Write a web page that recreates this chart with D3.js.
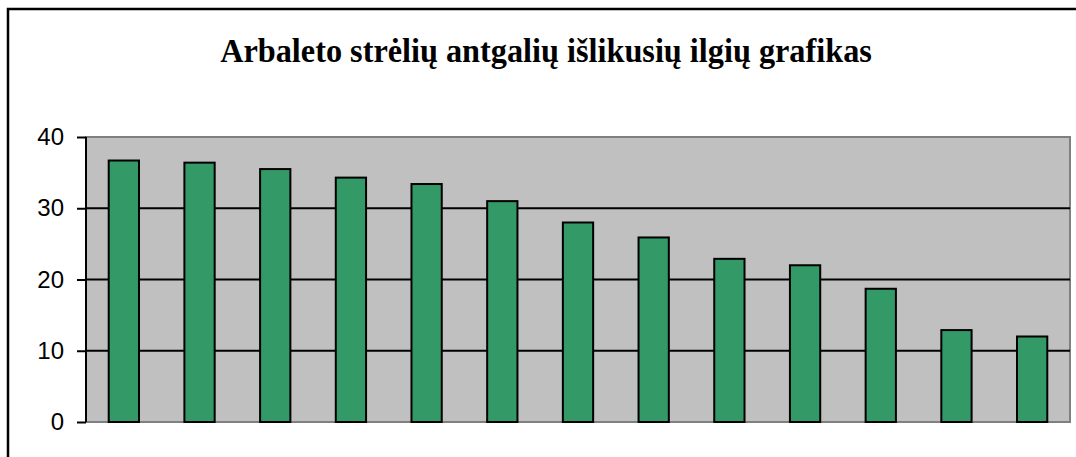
<!DOCTYPE html>
<html>
<head>
<meta charset="utf-8">
<script src="https://cdn.jsdelivr.net/npm/d3@7"></script>
<style>
  html, body { margin: 0; padding: 0; background: #ffffff; }
  svg { display: block; }
</style>
</head>
<body>
<svg id="chart" width="1076" height="457"></svg>
<script>
// Surviving lengths of crossbow bolt heads, ordered longest to shortest
const titleText = "Arbaleto strėlių antgalių išlikusių ilgių grafikas";
const categories = ["1", "2", "3", "4", "5", "6", "7", "8", "9", "10", "11", "12", "13"];
const lengths = [36.7, 36.4, 35.5, 34.3, 33.4, 31.0, 28.0, 25.9, 22.9, 22.0, 18.7, 12.9, 12.0];
const yTicks = [0, 10, 20, 30, 40];

const svg = d3.select("#chart");
const W = 1076, H = 457;
const plot = { left: 86, top: 137, right: 1070, bottom: 422 };

// Outer chart frame (runs past the right and bottom edges)
svg.append("rect")
  .attr("x", 8).attr("y", 9)
  .attr("width", W + 10).attr("height", H + 10)
  .attr("fill", "#ffffff")
  .attr("stroke", "#000000")
  .attr("stroke-width", 2.5);

// Title: tall bold serif, narrowed horizontally to span its line
const titleCx = (220 + 872) / 2, titleWidth = 652;
const title = svg.append("text")
  .attr("x", 0)
  .attr("y", 0)
  .attr("text-anchor", "middle")
  .attr("font-family", "'Liberation Serif', 'Times New Roman', serif")
  .attr("font-weight", "bold")
  .attr("font-size", 33)
  .attr("fill", "#000000")
  .text(titleText);
const tw = title.node().getComputedTextLength();
title.attr("transform", `translate(${titleCx},62) scale(${titleWidth / tw},1)`);

const x = d3.scaleBand()
  .domain(categories)
  .range([plot.left, plot.right])
  .paddingInner(0.6)
  .paddingOuter(0.3);

const y = d3.scaleLinear()
  .domain([0, 40])
  .range([plot.bottom, plot.top]);

// Plot area background
svg.append("rect")
  .attr("x", plot.left).attr("y", plot.top)
  .attr("width", plot.right - plot.left)
  .attr("height", plot.bottom - plot.top)
  .attr("fill", "#c0c0c0")
  .attr("stroke", "#808080")
  .attr("stroke-width", 2);

// Horizontal gridlines
svg.append("g")
  .selectAll("line")
  .data(yTicks.filter(t => t > 0 && t < 40))
  .join("line")
  .attr("x1", plot.left).attr("x2", plot.right)
  .attr("y1", d => y(d)).attr("y2", d => y(d))
  .attr("stroke", "#000000")
  .attr("stroke-width", 2);

// Bars
svg.append("g")
  .selectAll("rect")
  .data(lengths)
  .join("rect")
  .attr("x", (d, i) => x(categories[i]))
  .attr("y", d => y(d))
  .attr("width", x.bandwidth())
  .attr("height", d => y(0) - y(d))
  .attr("fill", "#339966")
  .attr("stroke", "#000000")
  .attr("stroke-width", 2);

// Value axis
const yAxis = svg.append("g")
  .attr("transform", `translate(${plot.left},0)`)
  .call(d3.axisLeft(y).tickValues(yTicks).tickSize(9).tickPadding(13).tickFormat(d3.format("d")));
yAxis.select(".domain").attr("stroke", "#000000").attr("stroke-width", 2)
  .attr("d", `M0,${plot.top}V${plot.bottom}`);
yAxis.selectAll(".tick line").attr("stroke", "#000000").attr("stroke-width", 2);
yAxis.selectAll(".tick text")
  .attr("font-family", "'Liberation Sans', Arial, sans-serif")
  .attr("font-size", 24)
  .attr("fill", "#000000");
</script>
</body>
</html>
